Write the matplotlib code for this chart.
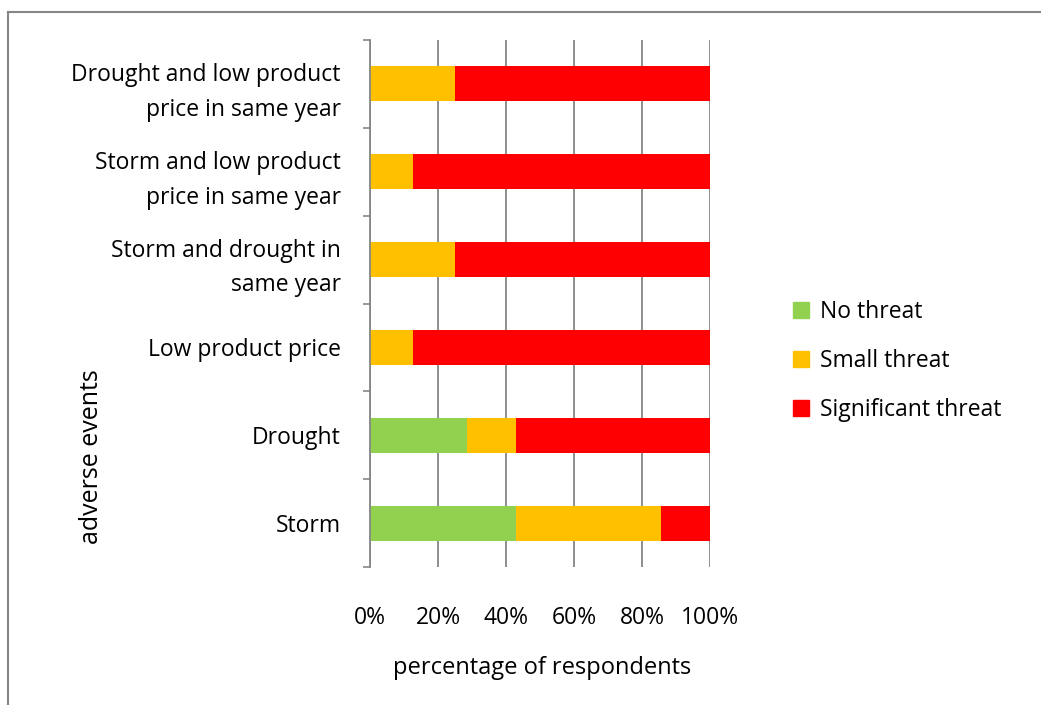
import matplotlib.pyplot as plt
from matplotlib.lines import Line2D

# Survey shares per adverse event (bottom to top)
events = ["Storm", "Drought", "Low product price",
          "Storm and drought in\nsame year",
          "Storm and low product\nprice in same year",
          "Drought and low product\nprice in same year"]
no_threat = [3/7, 2/7, 0, 0, 0, 0]
small_threat = [3/7, 1/7, 1/8, 1/4, 1/8, 1/4]
significant_threat = [1/7, 4/7, 7/8, 3/4, 7/8, 3/4]

series = ["No threat", "Small threat", "Significant threat"]
colors = ["#92D050", "#FFC000", "#FF0000"]

plt.rcParams['font.family'] = ['Open Sans', 'DejaVu Sans']
grey = "#868686"
fs = 16.5

fig = plt.figure(figsize=(10.41, 7.05), dpi=100)
ax = fig.add_axes([370/1041, 1 - 567/705, 340/1041, 527/705])

y = list(range(len(events)))
left = [0] * len(events)
for name, vals, c in zip(series, [no_threat, small_threat, significant_threat], colors):
    ax.barh(y, vals, left=left, height=0.4, color=c, label=name, zorder=3)
    left = [l + v for l, v in zip(left, vals)]

ax.set_xlim(0, 1)
ax.set_ylim(-0.5, len(events) - 0.5)
ax.set_xticks([0, 0.2, 0.4, 0.6, 0.8, 1.0])
ax.set_xticklabels(["0%", "20%", "40%", "60%", "80%", "100%"], fontsize=fs)
ax.set_yticks(y)
ax.set_yticklabels(events, fontsize=fs, linespacing=1.6, ha='right')
ax.set_yticks([i - 0.5 for i in range(len(events) + 1)], minor=True)

ax.tick_params(axis='x', length=0, pad=28)
ax.tick_params(axis='y', which='major', length=0, pad=21)
ax.tick_params(axis='y', which='minor', length=5, width=1.2, color=grey)

ax.grid(axis='x', color=grey, linewidth=1.3, zorder=0)
for s in ['top', 'right', 'bottom']:
    ax.spines[s].set_visible(False)
ax.spines['left'].set_color(grey)
ax.spines['left'].set_linewidth(1.3)
ax.spines['left'].set_zorder(4)

fig.text(542/1041, 1 - 668/705, "percentage of respondents", fontsize=17,
         ha='center', va='center')
fig.text(92/1041, 1 - 457/705, "adverse events", fontsize=18,
         rotation=90, ha='center', va='center')

handles = [plt.Rectangle((0, 0), 1, 1, color=c) for c in colors]
fig.legend(handles, series, loc='center left', bbox_to_anchor=(772/1041, 1 - 361/705),
           frameon=False, fontsize=fs, handlelength=0.7, handleheight=0.7,
           handletextpad=0.5, labelspacing=1.1)

# outer chart frame
fig.add_artist(Line2D([8/1041, 1], [1 - 12/705, 1 - 12/705], color=grey, linewidth=1.5))
fig.add_artist(Line2D([8/1041, 8/1041], [0, 1 - 12/705], color=grey, linewidth=1.5))

fig.savefig("out.png", dpi=100)
